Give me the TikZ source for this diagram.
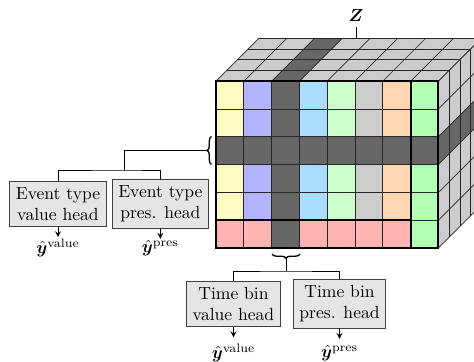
\documentclass[tikz,border=0pt]{standalone}
\usepackage{amsmath}
\usepackage{bm}
\usetikzlibrary{arrows, positioning, decorations.pathreplacing}

\definecolor{cyellow}{HTML}{FFF9C4}
\definecolor{clavender}{HTML}{B3B3FF}
\definecolor{cdark}{HTML}{666666}
\definecolor{csky}{HTML}{AADDFF}
\definecolor{cmint}{HTML}{CCFFCC}
\definecolor{cgray}{HTML}{CCCCCC}
\definecolor{cpeach}{HTML}{FFD6B0}
\definecolor{cgreen}{HTML}{B3FFB3}
\definecolor{cpink}{HTML}{FFB3B3}

\begin{document}
\begin{tikzpicture}[>=stealth, x=0.02cm, y=0.02cm, line width=0.5pt]
	\tikzstyle{head}=[draw=black!75, fill=black!10, align=center, inner sep=3.5pt]
	\tikzstyle{cell}=[draw=black!85, line width=0.4pt]
	\tikzstyle{brc}=[decorate, decoration={brace, amplitude=2.5pt}, line width=0.75pt]
	\useasboundingbox (0,0) rectangle (474,362);
	\clip (0,0) rectangle (474,362);

	% the tensor
	\begin{scope}[shift={(216,114)}, x=0.556cm, y=0.556cm]
		\foreach \i/\c in {0/cyellow, 1/clavender, 2/cdark, 3/csky, 4/cmint, 5/cgray, 6/cpeach, 7/cgreen}
			\fill[\c] (\i,0) rectangle ++(1,6);
		\fill[cpink] (0,0) rectangle (7,1);
		\fill[cdark] (2,0) rectangle (3,6);
		\fill[cdark] (0,3) rectangle (8,4);
		\foreach \i in {0,...,8} \draw[cell] (\i,0) -- (\i,6);
		\foreach \j in {0,...,6} \draw[cell] (0,\j) -- (8,\j);
		% top face
		\begin{scope}[shift={(0,6)}, cm={1,0,0.387,0.387,(0,0)}]
			\fill[cgray] (0,0) rectangle (8,4);
			\fill[cdark] (2,0) rectangle (3,4);
			\foreach \i in {0,...,8} \draw[cell] (\i,0) -- (\i,4);
			\foreach \k in {0,...,4} \draw[cell] (0,\k) -- (8,\k);
		\end{scope}
		% right face
		\begin{scope}[shift={(8,0)}, cm={0.387,0.387,0,1,(0,0)}]
			\fill[cgray] (0,0) rectangle (4,6);
			\fill[cdark] (0,3) rectangle (4,4);
			\foreach \k in {0,...,4} \draw[cell] (\k,0) -- (\k,6);
			\foreach \j in {0,...,6} \draw[cell] (0,\j) -- (4,\j);
		\end{scope}
		\draw[very thick] (0,0) rectangle (8,6);
		\draw[very thick] (7,0) -- (7,6);
		\draw[very thick] (0,1) -- (7,1);
	\end{scope}

	\coordinate (ztick) at (356,324);
	\node (zlab) at (356,347) {$\bm{Z}$};
	\draw (ztick) -- (zlab);

	% braces
	\draw[brc] (211.5,197.5) -- (211.5,225.5);
	\coordinate (lb) at (207,211.5);
	\draw[brc] (300,108) -- (272,108);
	\coordinate (bb) at (286,103.5);

	% heads
	\node[head] (evval) at (58,158) {Event type\\value head};
	\node[head] (evpres) [right=0.1cm of evval] {Event type\\pres. head};
	\node[head] (tbval) at (233.5,58) {Time bin\\value head};
	\node[head] (tbpres) [right=0.24cm of tbval] {Time bin\\pres. head};

	\coordinate (evsplit) at (124,192);
	\coordinate (tbsplit) at (286,91);
	\draw (lb) -| (evsplit);
	\draw (evval.north) |- (evsplit) -| (evpres.north);
	\draw (bb) -- (tbsplit);
	\draw (tbval.north) |- (tbsplit) -| (tbpres.north);

	% outputs
	\node (yevval) [below=0.2cm of evval, inner sep=0.5pt] {$\hat{\bm{y}}^{\text{value}}$};
	\node (yevpres) [below=0.2cm of evpres, inner sep=0.5pt] {$\hat{\bm{y}}^{\text{pres}}$};
	\node (ytbval) [below=0.2cm of tbval] {$\hat{\bm{y}}^{\text{value}}$};
	\node (ytbpres) [below=0.2cm of tbpres] {$\hat{\bm{y}}^{\text{pres}}$};
	\draw[->] (evval) -- (yevval);
	\draw[->] (evpres) -- (yevpres);
	\draw[->] (tbval) -- (ytbval);
	\draw[->] (tbpres) -- (ytbpres);
\end{tikzpicture}
\end{document}
